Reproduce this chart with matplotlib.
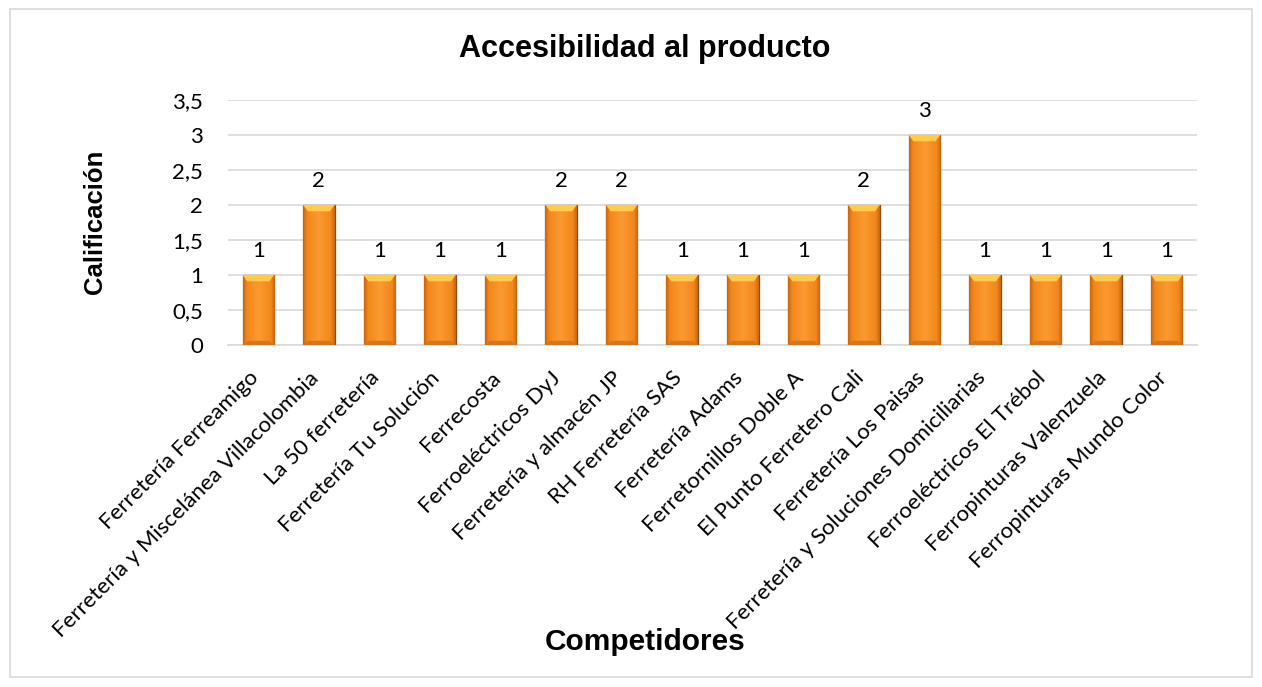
import numpy as np
import matplotlib.pyplot as plt
from matplotlib.patches import Rectangle
from matplotlib.colors import LinearSegmentedColormap
from matplotlib.transforms import ScaledTranslation

# === DATA ===
competidores = [
    'Ferretería Ferreamigo',
    'Ferretería y Miscelánea Villacolombia',
    'La 50 ferretería',
    'Ferretería Tu Solución',
    'Ferrecosta',
    'Ferroeléctricos DyJ',
    'Ferretería y almacén JP',
    'RH Ferretería SAS',
    'Ferretería Adams',
    'Ferretornillos Doble A',
    'El Punto Ferretero Cali',
    'Ferretería Los Paisas',
    'Ferretería y Soluciones Domiciliarias',
    'Ferroeléctricos El Trébol',
    'Ferropinturas Valenzuela',
    'Ferropinturas Mundo Color',
]
calificacion = [1, 2, 1, 1, 1, 2, 2, 1, 1, 1, 2, 3, 1, 1, 1, 1]
y_ticks = [0, 0.5, 1, 1.5, 2, 2.5, 3, 3.5]
y_tick_labels = ['0', '0,5', '1', '1,5', '2', '2,5', '3', '3,5']

TICK_FONT = 'Lato'
HEAD_FONT = 'Liberation Sans'

fig = plt.figure(figsize=(12.62, 6.87), dpi=100)
ax = fig.add_axes([228 / 1262, 1 - 345 / 687, 969 / 1262, 245 / 687])

# outer chart border
fig.patches.append(Rectangle((10 / 1262, 10 / 687), 1242 / 1262, 668 / 687,
                             transform=fig.transFigure, fill=False,
                             edgecolor='#D9D9D9', linewidth=1.2))

x = np.arange(len(competidores))
bars = ax.bar(x, calificacion, width=0.52, color='#F7931E',
              edgecolor='#8E4A16', linewidth=0.9, zorder=3)

# horizontal gradient (darker edges, bright centre) for a bevelled look
grad_cmap = LinearSegmentedColormap.from_list(
    'bev', [(0, '#C8650F'), (0.12, '#F2871C'), (0.5, '#FA9A30'),
            (0.88, '#F2871C'), (1, '#C8650F')])
grad = np.linspace(0, 1, 64).reshape(1, -1)
for b in bars:
    x0, w, h = b.get_x(), b.get_width(), b.get_height()
    im = ax.imshow(grad, cmap=grad_cmap, aspect='auto',
                   extent=(x0, x0 + w, 0, h), zorder=3.5)
    im.set_clip_path(b)
    # top bevel
    bev = 0.09
    ax.fill([x0, x0 + w, x0 + w * 0.85, x0 + w * 0.15],
            [h, h, h - bev, h - bev], color='#FFCB4F', zorder=4, lw=0)
    # bottom shade
    ax.fill([x0, x0 + w, x0 + w * 0.85, x0 + w * 0.15],
            [0, 0, 0.06, 0.06], color='#D8741A', zorder=4, lw=0)
    ax.text(x0 + w / 2, h + 0.2, f'{h:g}', ha='center', va='bottom',
            fontsize=16, family=TICK_FONT, color='black')

ax.set_xlim(-0.5, len(competidores) - 0.5)
ax.set_ylim(0, 3.5)
ax.set_yticks(y_ticks)
ax.set_yticklabels(y_tick_labels, fontsize=16, family=TICK_FONT)
ax.set_xticks(x)
ax.set_xticklabels(competidores, rotation=45, ha='right',
                   rotation_mode='anchor', fontsize=16, family=TICK_FONT)
ax.tick_params(axis='both', length=0)
ax.tick_params(axis='x', pad=12)
ax.tick_params(axis='y', pad=18)
shift = ScaledTranslation(-10 / 100, -6 / 100, fig.dpi_scale_trans)
for lbl in ax.get_xticklabels():
    lbl.set_transform(lbl.get_transform() + shift)
ax.grid(axis='y', color='#D9D9D9', linewidth=1.2, zorder=0)
for s in ['top', 'right', 'left']:
    ax.spines[s].set_visible(False)
ax.spines['bottom'].set_color('#D9D9D9')
ax.spines['bottom'].set_linewidth(1.2)

fig.text(645 / 1262, 1 - 49 / 687, 'Accesibilidad al producto', ha='center',
         va='center', fontsize=22, fontweight='bold', family=HEAD_FONT)
fig.text(645 / 1262, 1 - 642 / 687, 'Competidores', ha='center',
         va='center', fontsize=21.5, fontweight='bold', family=HEAD_FONT)
fig.text(95 / 1262, 1 - 222 / 687, 'Calificación', ha='center', va='center',
         rotation=90, fontsize=18.5, fontweight='bold', family=HEAD_FONT)

fig.savefig('out.png', dpi=100)
